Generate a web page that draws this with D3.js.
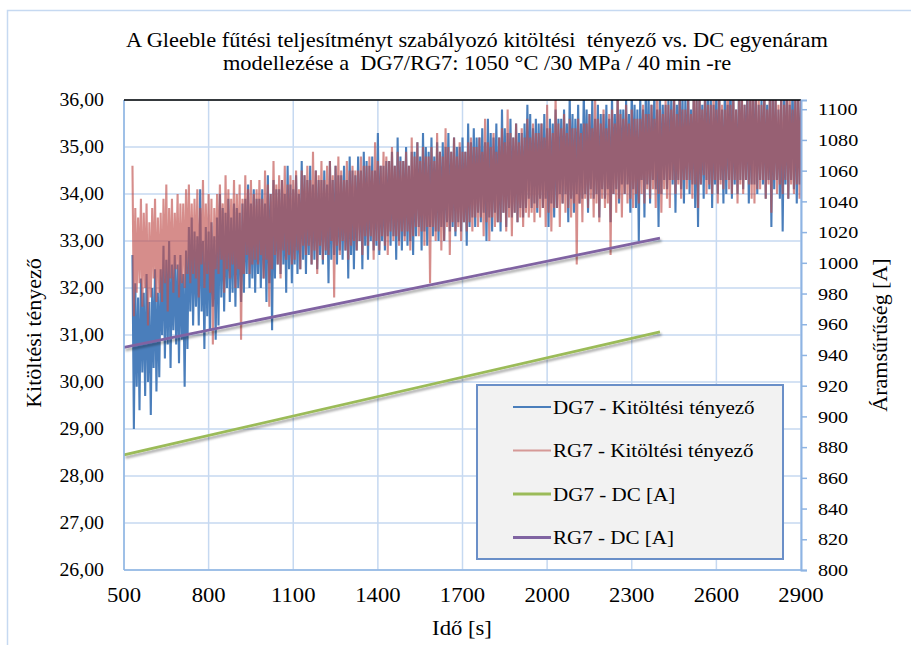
<!DOCTYPE html>
<html>
<head>
<meta charset="utf-8">
<script src="https://cdn.jsdelivr.net/npm/d3@7"></script>
<style>
  body { margin: 0; background: #fff; }
  svg text { font-family: "Liberation Serif", "DejaVu Serif", "Times New Roman", serif; fill: #000; }
</style>
</head>
<body>
<div id="chart"></div>
<script>
// ---- data ----
const titleLines = [
    'A Gleeble fűtési teljesítményt szabályozó kitöltési  tényező vs. DC egyenáram',
    'modellezése a  DG7/RG7: 1050 °C /30 MPa / 40 min -re'
];
const xTicks = [500, 800, 1100, 1400, 1700, 2000, 2300, 2600, 2900];
const leftTicks = [26, 27, 28, 29, 30, 31, 32, 33, 34, 35, 36];
const rightTicks = [800, 820, 840, 860, 880, 900, 920, 940, 960, 980, 1000, 1020, 1040, 1060, 1080, 1100];
const seriesNames = ['DG7 - Kitöltési tényező', 'RG7 - Kitöltési tényező', 'DG7 - DC [A]', 'RG7 - DC [A]'];

// duty factor samples, first sample at 530 s, one every 5 s (one row = 100 s)
const sampleStart = 530;
const sampleStep = 5;
const dg7Duty = [
    32.7, 29.0, 32.1, 29.9, 31.8, 29.4, 32.2, 30.2, 31.9, 29.7, 32.3, 30.0, 31.7, 29.3, 32.0, 30.3, 32.4, 29.8, 31.9, 30.1,
    32.4, 31.0, 32.9, 30.5, 32.6, 30.8, 33.0, 30.3, 32.5, 31.1, 32.7, 30.8, 32.5, 30.4, 32.7, 30.9, 32.3, 29.9, 32.8, 30.7,
    33.3, 31.5, 33.5, 31.2, 33.2, 31.6, 33.1, 31.2, 34.1, 31.5, 33.0, 30.7, 33.3, 31.4, 33.2, 31.1, 33.4, 31.6, 33.1, 30.9,
    33.5, 31.2, 34.0, 31.8, 33.7, 31.5, 33.6, 32.0, 33.9, 31.7, 33.5, 31.9, 33.8, 31.6, 33.7, 32.0, 33.6, 31.7, 33.8, 31.9,
    33.9, 32.3, 34.2, 32.0, 33.8, 32.2, 34.1, 31.9, 33.9, 32.3, 33.9, 32.0, 34.1, 32.2, 33.8, 31.7, 34.4, 32.1, 34.0, 31.1,
    34.3, 32.2, 34.1, 32.5, 34.1, 32.3, 34.3, 32.5, 34.0, 31.9, 34.6, 32.4, 34.2, 32.1, 34.1, 32.5, 34.4, 32.3, 34.0, 32.4,
    34.7, 32.6, 34.4, 32.3, 34.3, 32.7, 34.6, 32.5, 34.2, 32.6, 34.5, 32.4, 34.3, 32.7, 34.3, 32.5, 34.5, 32.7, 34.2, 32.1,
    34.7, 32.6, 34.3, 32.7, 34.6, 32.5, 34.4, 32.8, 34.4, 32.6, 34.6, 32.8, 34.3, 32.2, 34.8, 32.7, 34.5, 32.4, 34.4, 32.8,
    34.8, 33.0, 34.5, 32.4, 34.9, 32.9, 34.7, 32.6, 34.6, 33.0, 34.8, 32.8, 34.5, 32.9, 35.3, 32.7, 34.6, 33.0, 34.6, 32.8,
    34.7, 33.1, 34.7, 32.9, 34.9, 33.1, 34.6, 32.6, 35.2, 33.0, 34.8, 32.8, 34.7, 33.1, 35.0, 32.9, 34.6, 33.0, 34.9, 32.7,
    34.9, 33.1, 35.1, 33.3, 34.8, 32.8, 35.3, 33.2, 35.0, 32.9, 34.9, 33.3, 35.2, 33.1, 34.8, 33.2, 35.1, 33.0, 34.9, 33.3,
    35.1, 33.0, 35.0, 33.4, 35.3, 33.2, 34.9, 33.3, 35.2, 33.1, 35.0, 33.4, 35.0, 33.2, 35.2, 33.4, 34.9, 32.9, 35.5, 33.3,
    35.1, 33.5, 35.4, 33.3, 35.2, 33.6, 35.2, 33.4, 35.4, 33.6, 35.1, 33.0, 35.6, 33.5, 35.3, 33.2, 35.2, 33.6, 35.5, 33.4,
    35.2, 33.2, 35.8, 33.6, 35.4, 33.3, 35.3, 33.7, 35.6, 33.5, 35.2, 33.6, 35.5, 33.4, 35.3, 33.7, 35.3, 33.5, 35.5, 33.7,
    35.9, 33.9, 35.7, 33.7, 35.4, 33.8, 35.6, 33.6, 35.5, 33.9, 35.5, 33.7, 35.7, 33.9, 35.4, 33.3, 35.6, 33.8, 35.5, 33.5,
    35.8, 33.7, 35.6, 34.0, 35.6, 33.8, 35.8, 34.0, 35.5, 33.4, 36.1, 33.9, 35.7, 33.6, 35.6, 34.0, 35.9, 33.8, 35.5, 33.9,
    36.2, 34.0, 35.8, 33.6, 35.7, 34.1, 36.0, 33.9, 35.6, 34.0, 35.9, 33.5, 35.7, 34.1, 35.7, 33.9, 35.9, 34.1, 35.6, 33.4,
    36.1, 34.0, 35.7, 34.1, 36.0, 33.8, 35.8, 34.2, 35.8, 34.0, 36.0, 34.2, 35.7, 33.6, 36.3, 34.1, 35.9, 33.7, 35.8, 33.0,
    36.1, 34.3, 35.8, 33.5, 36.4, 34.2, 36.0, 33.8, 35.9, 34.3, 36.2, 34.1, 35.8, 33.3, 36.1, 34.0, 35.9, 34.3, 35.9, 34.1,
    36.0, 34.3, 36.0, 34.2, 36.2, 33.6, 35.9, 34.3, 36.5, 34.1, 36.1, 33.8, 36.0, 34.3, 36.3, 34.0, 35.8, 34.2, 36.2, 33.7,
    36.1, 33.3, 36.3, 34.2, 35.9, 33.9, 36.4, 34.3, 36.0, 34.1, 36.2, 33.7, 35.9, 34.2, 36.3, 34.0, 36.1, 34.3, 35.8, 33.8,
    36.3, 34.0, 35.9, 34.3, 36.5, 33.9, 36.1, 34.2, 35.8, 34.0, 36.2, 34.3, 36.2, 34.1, 35.9, 34.3, 36.4, 33.8, 36.0, 34.2,
    36.3, 34.2, 36.1, 34.0, 35.9, 34.3, 36.0, 34.2, 36.3, 33.9, 35.9, 34.3, 36.2, 33.3, 36.4, 34.1, 36.0, 34.3, 35.8, 33.9,
    36.2, 33.2, 36.0, 34.2, 36.3, 33.9, 35.9, 34.3, 36.4, 34.1, 36.1, 33.8, 36.2, 34.2, 36.0
];
const rg7Duty = [
    34.6, 31.4, 33.7, 31.9, 33.5, 32.1, 33.9, 31.6, 33.6, 32.0, 33.8, 31.2, 33.4, 31.8, 33.7, 32.2, 33.9, 31.7, 33.5, 31.9,
    33.6, 31.7, 33.9, 32.1, 34.2, 31.5, 33.7, 32.2, 33.9, 31.9, 33.6, 32.4, 34.0, 31.8, 33.8, 32.1, 33.8, 32.0, 34.1, 32.3,
    34.2, 32.1, 33.8, 32.3, 33.9, 32.2, 34.1, 31.8, 33.7, 32.5, 34.3, 32.0, 33.8, 32.3, 34.0, 31.9, 33.9, 30.8, 33.7, 32.4,
    34.0, 32.3, 34.2, 32.6, 33.8, 31.9, 34.4, 32.4, 34.1, 32.2, 33.9, 32.5, 34.3, 32.0, 34.0, 32.4, 34.2, 30.9, 33.9, 32.3,
    34.4, 32.7, 34.1, 32.3, 34.3, 32.5, 34.0, 32.6, 34.1, 32.5, 34.3, 32.7, 33.9, 32.2, 34.5, 32.6, 34.2, 31.6, 34.0, 32.4,
    34.7, 32.7, 34.2, 32.5, 34.4, 32.2, 34.3, 32.8, 34.6, 32.6, 34.2, 32.7, 34.4, 32.5, 34.3, 32.6, 34.5, 32.8, 34.1, 32.4,
    34.5, 32.9, 34.4, 32.7, 34.6, 32.9, 34.3, 32.5, 34.9, 32.8, 34.5, 32.3, 34.4, 32.9, 34.7, 32.6, 34.3, 32.8, 34.6, 32.7,
    34.7, 33.0, 34.4, 31.8, 34.6, 32.9, 34.8, 32.7, 34.5, 33.0, 34.3, 32.8, 34.7, 32.6, 34.5, 32.9, 34.6, 33.0, 34.5, 32.8,
    34.5, 33.0, 34.8, 32.7, 34.6, 33.1, 34.6, 32.9, 34.8, 33.1, 34.5, 32.6, 35.1, 33.0, 34.7, 32.8, 34.6, 33.1, 34.9, 32.9,
    34.8, 32.7, 34.7, 33.2, 35.0, 33.0, 34.6, 33.1, 34.9, 32.9, 34.7, 33.2, 34.7, 33.0, 34.9, 33.2, 34.6, 32.8, 35.2, 33.1,
    34.8, 33.3, 35.1, 33.1, 34.7, 33.2, 35.0, 32.9, 34.8, 33.3, 34.8, 32.1, 35.0, 33.3, 34.7, 33.0, 35.3, 33.2, 34.9, 32.8,
    34.8, 33.0, 35.4, 33.3, 35.0, 32.7, 34.9, 33.4, 35.2, 33.2, 34.8, 33.3, 35.1, 33.0, 34.9, 33.4, 34.9, 33.2, 35.1, 33.4,
    35.2, 33.2, 35.0, 33.5, 35.0, 33.3, 35.2, 33.5, 34.9, 33.1, 35.6, 33.4, 35.1, 33.0, 35.0, 33.5, 35.3, 33.3, 34.9, 33.4,
    35.2, 33.4, 35.4, 33.6, 35.1, 33.2, 35.8, 33.5, 35.3, 33.1, 35.2, 33.6, 35.5, 33.4, 35.1, 33.5, 35.4, 33.3, 35.2, 33.6,
    35.6, 33.5, 35.2, 33.6, 35.5, 33.4, 35.3, 33.7, 35.3, 33.5, 35.5, 33.7, 35.2, 33.3, 35.9, 33.6, 35.4, 33.2, 35.3, 33.7,
    36.1, 33.7, 35.5, 33.3, 35.4, 33.8, 35.7, 33.6, 35.3, 33.7, 35.6, 33.5, 35.4, 33.8, 35.4, 32.5, 35.6, 33.8, 35.3, 33.4,
    35.5, 33.9, 35.5, 33.7, 35.7, 33.9, 35.4, 33.5, 36.2, 33.8, 35.6, 33.4, 35.5, 33.9, 35.8, 33.7, 35.4, 33.8, 35.7, 32.7,
    35.8, 34.0, 35.5, 33.6, 36.3, 33.9, 35.7, 33.5, 35.6, 34.0, 35.9, 33.8, 35.5, 33.9, 35.8, 33.7, 35.6, 34.0, 35.6, 33.8,
    35.6, 34.0, 35.9, 33.8, 35.7, 34.1, 35.7, 33.9, 35.9, 34.1, 35.6, 33.7, 36.4, 34.0, 35.8, 33.6, 35.7, 34.1, 36.0, 33.9,
    35.9, 33.7, 35.8, 34.3, 36.1, 34.0, 35.7, 34.2, 36.0, 33.9, 35.8, 34.3, 35.8, 34.1, 36.0, 34.3, 35.7, 33.9, 36.5, 34.2,
    36.0, 33.7, 36.3, 34.2, 35.8, 34.4, 36.1, 34.0, 35.9, 34.2, 35.9, 34.0, 36.2, 34.3, 35.8, 33.8, 36.4, 34.2, 35.9, 34.1,
    35.8, 34.3, 36.5, 34.1, 35.9, 34.0, 36.2, 34.3, 35.8, 33.8, 36.1, 34.2, 36.4, 34.0, 35.9, 34.3, 36.0, 34.2, 36.3, 33.9,
    36.4, 33.8, 36.0, 34.1, 36.1, 34.1, 35.9, 34.3, 36.3, 33.9, 35.8, 34.2, 36.5, 33.6, 36.0, 34.3, 36.2, 34.0, 35.9, 34.2,
    36.2, 34.0, 35.9, 34.3, 36.4, 33.9, 36.1, 34.2, 35.8, 34.0, 36.3, 34.2, 36.0, 33.9, 36.2
];

// DC current fits (right axis), start and end points
const dcTime = [500, 2400];
const dg7Dc = [875, 955];
const rg7Dc = [945, 1016];

class DualAxisChart {

    constructor(config) {
        this.config = config;
        this.configureVis();
    }

    configureVis() {
        const vis = this;
        const m = vis.config.margin;

        vis.svg = d3.select(vis.config.parentElement)
            .append('svg')
            .attr('width', vis.config.containerWidth)
            .attr('height', vis.config.containerHeight);

        vis.width = vis.config.containerWidth - m.left - m.right;
        vis.height = vis.config.containerHeight - m.top - m.bottom;

        vis.xScale = d3.scaleLinear().domain([500, 2900]).range([m.left, m.left + vis.width]);
        vis.yLeft = d3.scaleLinear().domain([26, 36]).range([m.top + vis.height, m.top]);
        vis.yRight = d3.scaleLinear().domain([800, 1106]).range([m.top + vis.height, m.top]);

        const defs = vis.svg.append('defs');
        defs.append('clipPath').attr('id', 'plot-clip')
            .append('rect')
            .attr('x', m.left).attr('y', m.top)
            .attr('width', vis.width).attr('height', vis.height);
        defs.append('filter').attr('id', 'shadow')
            .attr('x', '-10%').attr('y', '-10%').attr('width', '130%').attr('height', '140%')
            .append('feDropShadow')
            .attr('dx', 1.5).attr('dy', 2.5).attr('stdDeviation', 1.3)
            .attr('flood-color', '#000').attr('flood-opacity', 0.35);

        vis.renderVis();
    }

    renderVis() {
        const vis = this;
        const m = vis.config.margin;
        const left = m.left, right = m.left + vis.width;
        const top = m.top, bottom = m.top + vis.height;
        const gridColor = '#c6d9f1';
        const axisColor = '#8eb4e3';

        // the source picture is slightly stretched sideways, so text gets a small x-scale
        const place = (x, y, sx, rot) =>
            `translate(${x},${y})${rot ? ` rotate(${rot})` : ''} scale(${sx},1)`;

        // outer chart frame
        vis.svg.append('rect')
            .attr('x', 7.5).attr('y', 10.5)
            .attr('width', 1000).attr('height', 1000)
            .attr('fill', 'none').attr('stroke', '#c6d9f1').attr('stroke-width', 1.5);

        // title
        vis.svg.selectAll('.title')
            .data(titleLines)
            .join('text')
            .attr('class', 'title')
            .attr('transform', (d, i) => place(477, 47 + i * 23, 1.12))
            .attr('text-anchor', 'middle')
            .style('font-size', '20px')
            .style('white-space', 'pre')
            .text(d => d);

        // grid
        vis.svg.append('g').selectAll('line')
            .data(leftTicks)
            .join('line')
            .attr('x1', left).attr('x2', right)
            .attr('y1', d => vis.yLeft(d)).attr('y2', d => vis.yLeft(d))
            .attr('stroke', gridColor).attr('stroke-width', 1.5);
        vis.svg.append('g').selectAll('line')
            .data(xTicks)
            .join('line')
            .attr('x1', d => vis.xScale(d)).attr('x2', d => vis.xScale(d))
            .attr('y1', top).attr('y2', bottom)
            .attr('stroke', gridColor).attr('stroke-width', 1.5);

        // duty factor series
        const dutyLine = d3.line()
            .x((d, i) => vis.xScale(sampleStart + i * sampleStep))
            .y(d => vis.yLeft(d));
        const plot = vis.svg.append('g').attr('clip-path', 'url(#plot-clip)');
        plot.append('path')
            .datum(dg7Duty)
            .attr('d', dutyLine)
            .attr('fill', 'none')
            .attr('stroke', '#4a7ebb')
            .attr('stroke-width', 2.1);
        plot.append('path')
            .datum(rg7Duty)
            .attr('d', dutyLine)
            .attr('fill', 'none')
            .attr('stroke', '#c0504d')
            .attr('stroke-opacity', 0.65)
            .attr('stroke-width', 2.1);

        // DC fits on the right axis
        const dcLine = d3.line()
            .x((d, i) => vis.xScale(dcTime[i]))
            .y(d => vis.yRight(d));
        plot.append('path')
            .datum(dg7Dc)
            .attr('d', dcLine)
            .attr('fill', 'none')
            .attr('stroke', '#9bbb59')
            .attr('stroke-width', 2.8)
            .attr('filter', 'url(#shadow)');
        plot.append('path')
            .datum(rg7Dc)
            .attr('d', dcLine)
            .attr('fill', 'none')
            .attr('stroke', '#8064a2')
            .attr('stroke-width', 2.8)
            .attr('filter', 'url(#shadow)');

        // axes lines
        vis.svg.append('line')
            .attr('x1', left).attr('x2', left).attr('y1', top).attr('y2', bottom)
            .attr('stroke', axisColor).attr('stroke-width', 1.5);
        vis.svg.append('line')
            .attr('x1', left).attr('x2', right).attr('y1', bottom).attr('y2', bottom)
            .attr('stroke', axisColor).attr('stroke-width', 1.5);
        vis.svg.append('line')
            .attr('x1', left).attr('x2', right).attr('y1', top).attr('y2', top)
            .attr('stroke', '#000').attr('stroke-width', 1.5);

        // right axis with outward ticks, labels drawn separately
        const rightAxis = d3.axisRight(vis.yRight)
            .tickValues(rightTicks)
            .tickSize(6)
            .tickFormat('');
        const ra = vis.svg.append('g')
            .attr('transform', `translate(${right},0)`)
            .call(rightAxis);
        ra.select('.domain').attr('stroke', axisColor).attr('stroke-width', 2);
        ra.selectAll('.tick line').attr('stroke', axisColor).attr('stroke-width', 1.5);
        vis.svg.append('g').selectAll('text')
            .data(rightTicks)
            .join('text')
            .attr('transform', d => place(818, vis.yRight(d), 1.15))
            .attr('dy', '0.35em')
            .style('font-size', '17.5px')
            .text(d => d);

        // left axis labels (comma decimals)
        const leftFormat = d => d3.format('.2f')(d).replace('.', ',');
        vis.svg.append('g').selectAll('text')
            .data(leftTicks)
            .join('text')
            .attr('transform', d => place(104, vis.yLeft(d), 1.1))
            .attr('dy', '0.35em')
            .attr('text-anchor', 'end')
            .style('font-size', '18px')
            .text(leftFormat);

        // x axis labels
        vis.svg.append('g').selectAll('text')
            .data(xTicks)
            .join('text')
            .attr('transform', d => place(vis.xScale(d), 602, 1.08))
            .attr('text-anchor', 'middle')
            .style('font-size', '21px')
            .text(d => d);

        // axis titles
        vis.svg.append('text')
            .attr('transform', place(462, 635, 1.08))
            .attr('text-anchor', 'middle')
            .style('font-size', '21px')
            .text('Idő [s]');
        vis.svg.append('text')
            .attr('transform', place(34, 333, 1.1, -90))
            .attr('dy', '0.35em')
            .attr('text-anchor', 'middle')
            .style('font-size', '20px')
            .text('Kitöltési tényező');
        vis.svg.append('text')
            .attr('transform', place(880, 335, 1.1, -90))
            .attr('dy', '0.35em')
            .attr('text-anchor', 'middle')
            .style('font-size', '20px')
            .text('Áramsűrűség [A]');

        // legend
        const legend = vis.svg.append('g');
        legend.append('rect')
            .attr('x', 477).attr('y', 385)
            .attr('width', 306).attr('height', 174)
            .attr('fill', '#f2f2f2')
            .attr('stroke', '#6a8fc8').attr('stroke-width', 2);
        const legendStyles = [
            { color: '#4a7ebb', opacity: 1, width: 2 },
            { color: '#c0504d', opacity: 0.55, width: 2 },
            { color: '#9bbb59', opacity: 1, width: 3 },
            { color: '#8064a2', opacity: 1, width: 3 }
        ];
        const rows = legend.selectAll('.legend-row')
            .data(seriesNames)
            .join('g')
            .attr('class', 'legend-row')
            .attr('transform', (d, i) => `translate(0,${407 + i * 43.5})`);
        rows.append('line')
            .attr('x1', 513).attr('x2', 551)
            .attr('stroke', (d, i) => legendStyles[i].color)
            .attr('stroke-opacity', (d, i) => legendStyles[i].opacity)
            .attr('stroke-width', (d, i) => legendStyles[i].width);
        rows.append('text')
            .attr('transform', place(553, 0, 1.08))
            .attr('dy', '0.35em')
            .style('font-size', '19.5px')
            .text(d => d);
    }
}

new DualAxisChart({
    parentElement: '#chart',
    containerWidth: 911,
    containerHeight: 645,
    margin: { top: 100, right: 110, bottom: 75, left: 124 }
});
</script>
</body>
</html>
